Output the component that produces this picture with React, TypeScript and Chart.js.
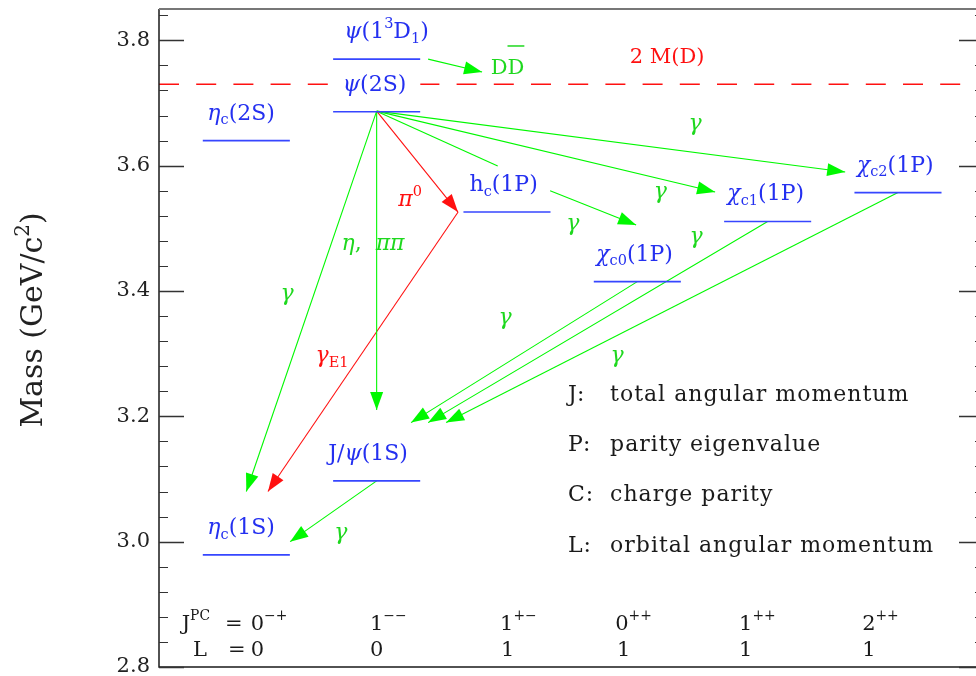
import React, { useEffect, useRef } from 'react';
import { Chart, registerables } from 'chart.js';

Chart.register(...registerables);

const FONT = '"DejaVu Serif", "Liberation Serif", serif';

// ---------------- Data ----------------
// Charmonium levels (column = J^PC group, mass in GeV/c^2)
const levelNames = ['η_{c}(1S)', 'J/ψ(1S)', 'η_{c}(2S)', 'ψ(2S)', 'ψ(1^{3}D_{1})', 'h_{c}(1P)', 'χ_{c0}(1P)', 'χ_{c1}(1P)', 'χ_{c2}(1P)'];
const levelColumn = [0, 1, 0, 1, 1, 2, 3, 4, 5];
const levelMass = [2.979, 3.097, 3.640, 3.686, 3.770, 3.526, 3.415, 3.511, 3.557];
const levelLabelX = [-0.04, 0.934, -0.04, 0.984, 1.076, 1.974, 2.979, 3.985, 4.979];
const levelLabelKnockout = [0, 0, 0, 1, 0, 0, 0, 0, 0];

// Open-charm threshold
const thresholdMass = 3.730;
const thresholdLabel = '2 M(D)';
const thresholdLabelX = 3.228;
const thresholdLabelM = 3.7637;

// Transitions (from -> to, in x column units and mass)
const transFromX = [1.395, 1.0, 1.0, 1.0, 1.625, 1.0, 2.331, 1.0, 1.0, 3.0, 4.0, 5.0, 1.0];
const transFromM = [3.770, 3.687, 3.687, 3.687, 3.526, 3.687, 3.560, 3.687, 3.687, 3.415, 3.511, 3.557, 3.097];
const transToX = [1.809, 0.0, 1.0, 1.624, 0.166, 1.929, 2.991, 3.597, 4.595, 1.264, 1.395, 1.533, 0.336];
const transToM = [3.7495, 3.080, 3.210, 3.526, 3.080, 3.5995, 3.5054, 3.558, 3.590, 3.190, 3.190, 3.190, 3.000];
const transColor = ['g', 'g', 'g', 'r', 'r', 'g', 'g', 'g', 'g', 'g', 'g', 'g', 'g'];
const transArrow = [1, 1, 1, 1, 1, 0, 1, 1, 1, 1, 1, 1, 1];

// Transition annotations (center x, baseline mass)
const annText = ['γ', 'γ', 'γ', 'γ', 'γ', 'γ', 'γ', 'γ', 'η,  ππ', 'π^{0}', 'γ_{E1}'];
const annX = [0.312, 0.726, 2.506, 3.176, 3.443, 3.451, 1.985, 2.844, 0.972, 1.256, 0.658];
const annM = [3.3858, 3.0044, 3.4974, 3.5484, 3.6570, 3.4768, 3.3474, 3.2868, 3.4656, 3.5356, 3.287];
const annColor = ['g', 'g', 'g', 'g', 'g', 'g', 'g', 'g', 'g', 'r', 'r'];
const ddX = 2.004;
const ddM = 3.7463;

// Legend
const legendKeys = ['J:', 'P:', 'C:', 'L:'];
const legendDescs = ['total angular momentum', 'parity eigenvalue', 'charge parity', 'orbital angular momentum'];
const legendM = [3.2251, 3.1453, 3.0656, 2.9842];
const legendKeyX = 2.468;
const legendDescX = 2.791;

// Quantum-number rows
const jpcLabels = ['1^{−−}', '1^{+−}', '0^{++}', '1^{++}', '2^{++}'];
const lLabels = ['0', '1', '1', '1', '1'];
const jpcX = [0.949, 1.947, 2.830, 3.781, 4.725];
const lX = [0.949, 1.955, 2.845, 3.781, 4.725];
const jpcRowM = 2.8595;
const lRowM = 2.818;

// Axis
const yMin = 2.8;
const yMax = 3.85;
const yTickValues = [2.8, 3.0, 3.2, 3.4, 3.6, 3.8];
const yMinorStep = 0.04;
const xMin = -0.67;
const xMax = 5.66;
const levelHalfWidth = 0.334;
const yTitle = 'Mass (GeV/c^{2})';

// ---------------- Styles ----------------
const BLUE_LINE = '#3646ff';
const BLUE_TEXT = '#2430f0';
const GREEN_LINE = '#00f800';
const GREEN_TEXT = '#1ed81e';
const RED = '#ff1010';
const BLACK = '#1a1a1a';

const colorOf = (c: string, text = false) => (c === 'r' ? RED : c === 'k' ? BLACK : text ? GREEN_TEXT : GREEN_LINE);

type Seg = { t: string; k: number };
function parseRich(s: string): Seg[] {
  const out: Seg[] = [];
  let i = 0;
  let buf = '';
  while (i < s.length) {
    const c = s[i];
    if ((c === '_' || c === '^') && s[i + 1] === '{') {
      if (buf) { out.push({ t: buf, k: 0 }); buf = ''; }
      const end = s.indexOf('}', i + 2);
      out.push({ t: s.slice(i + 2, end), k: c === '^' ? 1 : -1 });
      i = end + 1;
    } else {
      buf += c;
      i++;
    }
  }
  if (buf) out.push({ t: buf, k: 0 });
  return out;
}

const fontStr = (size: number, italic: boolean) => `${italic ? 'italic ' : ''}${size}px ${FONT}`;

function drawRich(ctx: CanvasRenderingContext2D, s: string, x: number, y: number, size: number, color: string, align: 'left' | 'center' | 'right' = 'left', knockout = 0) {
  const segs = parseRich(s);
  const pieces: { t: string; sz: number; dy: number; it: boolean; w: number }[] = [];
  for (const seg of segs) {
    const sz = seg.k === 0 ? size : size * 0.66;
    const dy = seg.k === 1 ? -size * 0.45 : seg.k === -1 ? size * 0.22 : 0;
    let cur = '';
    let curI: boolean | null = null;
    for (const ch of seg.t) {
      const it = /[\u0370-\u03ff]/.test(ch);
      if (curI !== null && it !== curI) { pieces.push({ t: cur, sz, dy, it: curI, w: 0 }); cur = ''; }
      cur += ch;
      curI = it;
    }
    if (cur) pieces.push({ t: cur, sz, dy, it: !!curI, w: 0 });
  }
  let w = 0;
  for (const p of pieces) {
    ctx.font = fontStr(p.sz, p.it);
    p.w = ctx.measureText(p.t).width;
    w += p.w;
  }
  let cx = align === 'center' ? x - w / 2 : align === 'right' ? x - w : x;
  if (knockout) {
    ctx.fillStyle = '#ffffff';
    ctx.fillRect(cx - knockout, y - size * 0.95, w + 2 * knockout, size * 1.25);
  }
  ctx.fillStyle = color;
  ctx.textAlign = 'left';
  ctx.textBaseline = 'alphabetic';
  for (const p of pieces) {
    ctx.font = fontStr(p.sz, p.it);
    ctx.fillText(p.t, cx, y + p.dy);
    cx += p.w;
  }
  return w;
}

const diagramPlugin = {
  id: 'diagram',
  afterDatasetsDraw(chart: any) {
    const { ctx, chartArea: a } = chart;
    const xs = chart.scales.x;
    const ys = chart.scales.y;
    const px = (v: number) => xs.getPixelForValue(v);
    const py = (v: number) => ys.getPixelForValue(v);
    ctx.save();

    // Frame
    ctx.lineWidth = 1.5;
    ctx.strokeStyle = BLACK;
    ctx.beginPath();
    ctx.moveTo(a.left, a.top);
    ctx.lineTo(a.left, a.bottom);
    ctx.lineTo(a.right, a.bottom);
    ctx.lineTo(a.right, a.top);
    ctx.stroke();
    ctx.strokeStyle = '#777';
    ctx.lineWidth = 2.2;
    ctx.beginPath();
    ctx.moveTo(a.left, a.top);
    ctx.lineTo(a.right, a.top);
    ctx.stroke();

    // Inward ticks on both sides
    ctx.strokeStyle = '#333';
    const n = Math.round((yMax - yMin) / yMinorStep);
    for (let i = 0; i <= n; i++) {
      const v = yMin + i * yMinorStep;
      if (v > yMax + 1e-9) break;
      const major = i % 5 === 0;
      const len = major ? 25 : 9;
      const yy = Math.round(py(v)) + 0.5;
      ctx.lineWidth = major ? 1.6 : 1.1;
      ctx.beginPath();
      ctx.moveTo(a.left, yy);
      ctx.lineTo(a.left + len, yy);
      ctx.moveTo(a.right, yy);
      ctx.lineTo(a.right - len, yy);
      ctx.stroke();
    }

    // Arrowheads
    for (let i = 0; i < transFromX.length; i++) {
      if (!transArrow[i]) continue;
      const x1 = px(transFromX[i]), y1 = py(transFromM[i]);
      const x2 = px(transToX[i]), y2 = py(transToM[i]);
      const ang = Math.atan2(y2 - y1, x2 - x1);
      const L = 18, W = 6.5;
      const bx = x2 - L * Math.cos(ang), by = y2 - L * Math.sin(ang);
      ctx.fillStyle = colorOf(transColor[i]);
      ctx.beginPath();
      ctx.moveTo(x2, y2);
      ctx.lineTo(bx + W * Math.sin(ang), by - W * Math.cos(ang));
      ctx.lineTo(bx - W * Math.sin(ang), by + W * Math.cos(ang));
      ctx.closePath();
      ctx.fill();
    }

    // Level labels
    for (let i = 0; i < levelNames.length; i++) {
      drawRich(ctx, levelNames[i], px(levelLabelX[i]), py(levelMass[i]) - 21, 22, BLUE_TEXT, 'center', levelLabelKnockout[i] ? 14 : 0);
    }

    // Threshold label
    drawRich(ctx, thresholdLabel, px(thresholdLabelX), py(thresholdLabelM), 21, RED, 'center');

    // Transition labels
    for (let i = 0; i < annText.length; i++) {
      drawRich(ctx, annText[i], px(annX[i]), py(annM[i]), 22, colorOf(annColor[i], true), 'center');
    }

    // D Dbar
    {
      ctx.font = fontStr(21, false);
      const wD = ctx.measureText('D').width;
      const cx = px(ddX) - wD;
      const by = py(ddM);
      drawRich(ctx, 'DD', cx, by, 21, GREEN_TEXT, 'left');
      ctx.strokeStyle = GREEN_TEXT;
      ctx.lineWidth = 1.5;
      ctx.beginPath();
      ctx.moveTo(cx + wD, by - 28);
      ctx.lineTo(cx + 2 * wD, by - 28);
      ctx.stroke();
    }

    // Legend
    ctx.save();
    try { (ctx as any).letterSpacing = '1px'; } catch (e) { /* ignore */ }
    for (let i = 0; i < legendKeys.length; i++) {
      drawRich(ctx, legendKeys[i], px(legendKeyX), py(legendM[i]), 22, BLACK, 'left');
      drawRich(ctx, legendDescs[i], px(legendDescX), py(legendM[i]), 22, BLACK, 'left');
    }
    ctx.restore();

    // Quantum-number rows
    drawRich(ctx, 'J^{PC}', px(-0.496), py(jpcRowM), 21, BLACK, 'left');
    drawRich(ctx, '=', px(-0.163), py(jpcRowM), 21, BLACK, 'left');
    drawRich(ctx, '0^{−+}', px(0.034), py(jpcRowM), 21, BLACK, 'left');
    drawRich(ctx, 'L', px(-0.409), py(lRowM), 21, BLACK, 'left');
    drawRich(ctx, '=', px(-0.140), py(lRowM), 21, BLACK, 'left');
    drawRich(ctx, '0', px(0.034), py(lRowM), 21, BLACK, 'left');
    for (let i = 0; i < jpcLabels.length; i++) {
      drawRich(ctx, jpcLabels[i], px(jpcX[i]), py(jpcRowM), 21, BLACK, 'left');
      drawRich(ctx, lLabels[i], px(lX[i]), py(lRowM), 21, BLACK, 'left');
    }

    // Y-axis title
    ctx.save();
    ctx.translate(42, (a.top + a.bottom) / 2 - 18);
    ctx.rotate(-Math.PI / 2);
    drawRich(ctx, yTitle, 0, 0, 30, '#222', 'center');
    ctx.restore();

    ctx.restore();
  },
};

export default function App() {
  const ref = useRef<HTMLCanvasElement | null>(null);

  useEffect(() => {
    if (!ref.current) return;
    const datasets: any[] = [];
    for (let i = 0; i < levelMass.length; i++) {
      datasets.push({
        data: [
          { x: levelColumn[i] - levelHalfWidth, y: levelMass[i] },
          { x: levelColumn[i] + levelHalfWidth, y: levelMass[i] },
        ],
        borderColor: BLUE_LINE,
        borderWidth: 1.6,
        showLine: true,
        pointRadius: 0,
      });
    }
    datasets.push({
      data: [{ x: xMin, y: thresholdMass }, { x: xMax, y: thresholdMass }],
      borderColor: RED,
      borderWidth: 1.4,
      borderDash: [20, 17.2],
      showLine: true,
      pointRadius: 0,
    });
    for (let i = 0; i < transFromX.length; i++) {
      datasets.push({
        data: [{ x: transFromX[i], y: transFromM[i] }, { x: transToX[i], y: transToM[i] }],
        borderColor: colorOf(transColor[i]),
        borderWidth: 1.1,
        showLine: true,
        pointRadius: 0,
      });
    }

    const chart = new Chart(ref.current, {
      type: 'scatter',
      data: { datasets },
      options: {
        animation: false,
        responsive: false,
        events: [],
        layout: { padding: { left: 0, right: 6, top: 9, bottom: 9 } },
        plugins: { legend: { display: false }, tooltip: { enabled: false }, title: { display: false } },
        scales: {
          x: { type: 'linear', min: xMin, max: xMax, display: false },
          y: {
            type: 'linear',
            min: yMin,
            max: yMax,
            afterFit: (s: any) => { s.width = 159; s.paddingTop = 0; s.paddingBottom = 0; },
            afterBuildTicks: (s: any) => { s.ticks = yTickValues.map((v) => ({ value: v })); },
            grid: { display: false, drawTicks: false },
            border: { display: false },
            ticks: {
              padding: 9,
              color: '#222',
              font: { family: FONT, size: 21 },
              callback: (v: any) => Number(v).toFixed(1),
            },
          },
        },
      } as any,
      plugins: [diagramPlugin as any],
    });
    return () => chart.destroy();
  }, []);

  return (
    <div style={{ position: 'fixed', left: 0, top: 0, width: 976, height: 676, overflow: 'hidden', background: '#fff' }}>
      <canvas ref={ref} width={990} height={676} style={{ display: 'block' }} />
    </div>
  );
}
